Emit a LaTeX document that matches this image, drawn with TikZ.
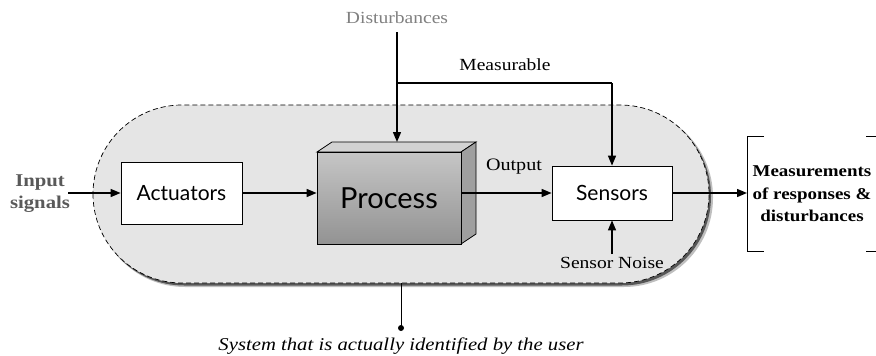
\documentclass[tikz,border=0pt]{standalone}
\usepackage{fontspec}
\setmainfont{Liberation Serif}[FakeStretch=1.15]
\setsansfont{Lato}
\usetikzlibrary{arrows.meta}
\begin{document}
\begin{tikzpicture}[x=1pt,y=-1pt,
  flow/.style={line width=1.4pt,-{Triangle[length=10pt,width=8pt]}},
  block/.style={draw=black,line width=0.8pt,fill=white,font=\sffamily\fontsize{21}{24}\selectfont,inner sep=0pt},
  lbl/.style={font=\fontsize{17}{18}\selectfont,inner sep=0pt},
  boldlbl/.style={font=\bfseries\fontsize{16.5}{22.5}\selectfont,align=center,inner sep=0pt}]
\useasboundingbox (0,0) rectangle (876,356);

% soft shadow under the boundary of the identified system
\fill[black,opacity=0.25,rounded corners=89pt] (96,108) rectangle (713,287);
\fill[black,opacity=0.55,rounded corners=89pt] (95,107) rectangle (711,285.5);
% identified system boundary
\draw[dash pattern=on 5pt off 3pt,line width=0.7pt,fill=gray!20,rounded corners=89pt]
  (93,105) rectangle (709,283);

% input side
\node[boldlbl,text=black!65,font=\bfseries\fontsize{18}{22}\selectfont] (in) at (40,194) {Input\\signals};
\node[block,minimum width=121pt,minimum height=62pt] (act) at (181.5,193) {Actuators};

% process drawn as a 3D block
\fill[gray!35,draw=black,line width=0.8pt] (317,152) -- (332,142) -- (476,142) -- (461,152) -- cycle;
\fill[gray!75,draw=black,line width=0.8pt] (461,152) -- (476,142) -- (476,234) -- (461,244) -- cycle;
\shade[top color=gray!45,bottom color=gray!85] (317,152) rectangle (461,244);
\node[draw=black,line width=0.8pt,minimum width=144pt,minimum height=92pt,inner sep=0pt,
  font=\sffamily\fontsize{29}{30}\selectfont] (proc) at (389,198) {Process};
\coordinate (ptop) at (397,142);

\node[block,minimum width=120pt,minimum height=54pt] (sens) at (612,193) {Sensors};

% disturbances
\node[lbl,text=black!50] (dist) at (397,18) {Disturbances};
\coordinate (split) at (397,83);
\coordinate (mcorner) at (612,83);
\draw[flow] (dist.south |- 0,32) -- (ptop);
\draw[line width=1.4pt] (split) -- (mcorner);
\draw[flow] (mcorner) -- (sens.north);
\node[lbl] (meas) at (505,65) {Measurable};

% signal path
\draw[flow] (in.east |- act.west) ++(-2,0) -- (act.west);
\draw[flow] (act.east) -- (act.east -| proc.west);
\draw[flow] (act.east -| proc.east) -- (sens.west);
\node[lbl,font=\fontsize{17.5}{18}\selectfont] (outl) at (514,167) {Output};

\node[lbl] (noise) at (612,263) {Sensor Noise};
\draw[flow] (noise.north) ++(0,-3) -- (sens.south);

% measurements bracket
\node[boldlbl] (res) at (812,194) {Measurements\\of responses \&\\disturbances};
\coordinate (bl) at (747,193);
\draw[flow] (sens.east) -- (bl);
\draw[line width=0.8pt] (764,136) -- (747,136) -- (747,251) -- (764,251);
\draw[line width=0.8pt] (866,136) -- (876,136) -- (876,251) -- (866,251);

% annotation of the identified system
\coordinate (bnd) at (401,283);
\node[lbl,font=\itshape\fontsize{18}{18}\selectfont] (note) at (401,346) {System that is actually identified by the user};
\coordinate (dot) at (401,328);
\draw[line width=0.8pt] (bnd) -- (dot);
\fill (dot) circle (3pt);
\end{tikzpicture}
\end{document}
